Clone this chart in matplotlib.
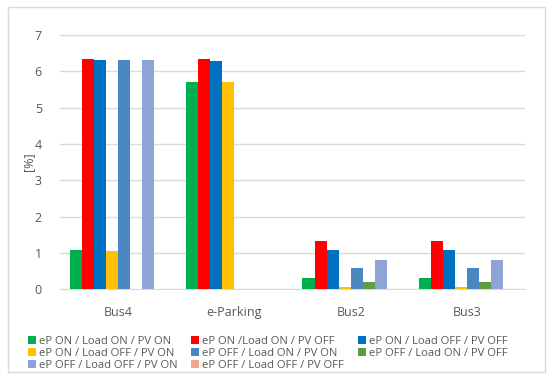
import matplotlib.pyplot as plt
import matplotlib.patches as patches
import numpy as np

plt.rcParams['font.family'] = ['Open Sans', 'DejaVu Sans']

categories = ['Bus4', 'e-Parking', 'Bus2', 'Bus3']
series_names = [
    'eP ON / Load ON / PV ON',
    'eP ON /Load ON / PV OFF',
    'eP ON / Load OFF / PV OFF',
    'eP ON / Load OFF / PV ON',
    'eP OFF / Load ON / PV ON',
    'eP OFF / Load ON / PV OFF',
    'eP OFF / Load OFF / PV ON',
    'eP OFF / Load OFF / PV OFF',
]
# values per series, one per category
on_on_on = [1.07, 5.72, 0.30, 0.30]
on_on_off = [6.35, 6.35, 1.32, 1.32]
on_off_off = [6.32, 6.30, 1.07, 1.07]
on_off_on = [1.05, 5.70, 0.05, 0.05]
off_on_on = [6.32, 0.0, 0.58, 0.58]
off_on_off = [0.0, 0.0, 0.20, 0.20]
off_off_on = [6.32, 0.0, 0.80, 0.80]
off_off_off = [0.0, 0.0, 0.0, 0.0]
values = [on_on_on, on_on_off, on_off_off, on_off_on,
          off_on_on, off_on_off, off_off_on, off_off_off]

colors = ['#00B050', '#FF0000', '#0070C0', '#FFC000',
          '#4A86C0', '#5E9E3E', '#8EA4D6', '#EFA68C']

fig = plt.figure(figsize=(5.5, 3.78), dpi=100)
ax = fig.add_axes([0.109, 0.235, 0.846, 0.672])

# chart border
fig.patches.append(patches.Rectangle((8 / 550, 6 / 378), 537 / 550, 365 / 378,
                                     transform=fig.transFigure, fill=False,
                                     edgecolor='#D9D9D9', linewidth=1.0))

n = len(values)
width = 0.83 / n
x = np.arange(len(categories))
handles = []
for i, (vals, col) in enumerate(zip(values, colors)):
    offs = (i - (n - 1) / 2) * width
    b = ax.bar(x + offs, vals, width, color=col, label=series_names[i], zorder=3)
    handles.append(b)

ax.set_xlim(-0.5, len(categories) - 0.5)
ax.set_ylim(0, 7)
ax.set_yticks(range(0, 8))
ax.yaxis.grid(True, color='#D9D9D9', linewidth=1.0, zorder=0)
for s in ['top', 'right', 'left']:
    ax.spines[s].set_visible(False)
ax.spines['bottom'].set_color('#D9D9D9')
ax.tick_params(axis='both', length=0, colors='#595959', labelsize=9)
ax.tick_params(axis='y', pad=13)
ax.tick_params(axis='x', pad=12)
ax.set_xticks(x)
ax.set_xticklabels(categories)
ax.set_ylabel('[%]', color='#595959', fontsize=9, labelpad=0)

order = [0, 3, 6, 1, 4, 7, 2, 5]
leg = fig.legend([handles[i] for i in order], [series_names[i] for i in order],
                 ncol=3, loc='lower left', bbox_to_anchor=(0.038, 0.0),
                 frameon=False, fontsize=8.1, handlelength=0.7, handleheight=0.7,
                 handletextpad=0.3, columnspacing=1.2, labelspacing=0.1,
                 borderaxespad=0.2)
for t in leg.get_texts():
    t.set_color('#595959')

fig.savefig('out.png', dpi=100)
